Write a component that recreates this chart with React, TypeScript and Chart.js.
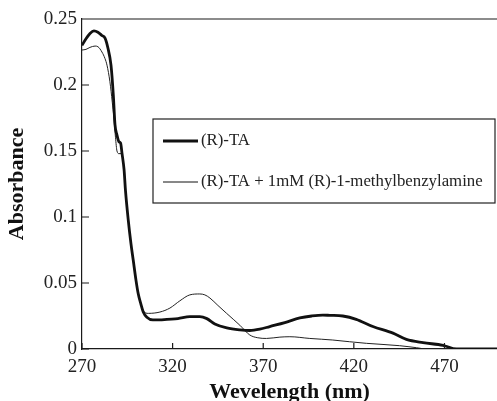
import React, { useEffect, useRef } from "react";
import { Chart, registerables } from "chart.js";

Chart.register(...registerables);

// (R)-TA
const taWavelength = [
  270, 272.2, 274.4, 276.6, 278.8, 281.0, 282.7, 284.3, 286.0, 287.3, 288.2, 289.3,
  290.4, 291.3, 292.1, 293.2, 294.0, 295.5, 297.0, 298.3, 299.8, 301.0, 302.5, 303.8,
  305.8, 309.1, 313.0, 316.9, 322.9, 329.5, 335.0, 338.9, 343.3, 349.9, 357.1, 362.6,
  368.1, 373.6, 381.9, 390.2, 396.8, 402.9, 406.7, 413.9, 421.3, 430.5, 441.6, 449.0,
  458.2, 469.2, 476.6, 499,
];
const taAbsorbance = [
  0.230, 0.235, 0.239, 0.241, 0.240, 0.2375, 0.2355, 0.228, 0.215, 0.192, 0.170, 0.162,
  0.157, 0.156, 0.148, 0.136, 0.120, 0.098, 0.080, 0.067, 0.052, 0.042, 0.034, 0.028,
  0.024, 0.022, 0.022, 0.0225, 0.023, 0.0245, 0.0245, 0.023, 0.019, 0.016, 0.0145, 0.014,
  0.015, 0.017, 0.020, 0.0235, 0.025, 0.0257, 0.0255, 0.025, 0.0225, 0.017, 0.012, 0.0073,
  0.0048, 0.0028, 0.0, 0.0,
];

// (R)-TA + 1mM (R)-1-methylbenzylamine
const mixWavelength = [
  270, 272.2, 274.4, 277.2, 278.8, 281.0, 282.7, 283.8, 285.4, 286.7, 287.6, 288.5,
  289.3, 290.4, 291.9, 293.2, 294.0, 295.5, 297.0, 298.3, 299.8, 301.0, 302.5, 303.8,
  306.6, 313.0, 318.5, 324.0, 329.5, 335.0, 337.8, 340.6, 345.0, 349.8, 357.1, 362.6,
  367.0, 371.8, 379.2, 384.7, 395.7, 408.4, 417.7, 426.9, 445.3, 454.5, 460.2, 499,
];
const mixAbsorbance = [
  0.2265, 0.227, 0.2285, 0.2295, 0.229, 0.225, 0.220, 0.215, 0.2025, 0.187, 0.175, 0.160,
  0.150, 0.148, 0.148, 0.136, 0.120, 0.098, 0.080, 0.067, 0.052, 0.042, 0.034, 0.029,
  0.027, 0.028, 0.031, 0.0365, 0.041, 0.0417, 0.041, 0.0386, 0.033, 0.027, 0.018, 0.0106,
  0.0085, 0.008, 0.009, 0.0093, 0.008, 0.0068, 0.0055, 0.0043, 0.0025, 0.001, 0.0, 0.0,
];

const seriesLabels = ["(R)-TA", "(R)-TA + 1mM (R)-1-methylbenzylamine"];
const xTickValues = [270, 320, 370, 420, 470];
const yTickValues = [0, 0.05, 0.1, 0.15, 0.2, 0.25];
const yTickLabels = ["0", "0.05", "0.1", "0.15", "0.2", "0.25"];
const xTitle = "Wevelength (nm)";
const yTitle = "Absorbance";

const SERIF = "'Liberation Serif', 'Times New Roman', serif";

const framePlugin = {
  id: "frameAndLegend",
  afterDraw(chart: any) {
    const { ctx, chartArea, scales } = chart;
    const xs = scales.x;
    const ys = scales.y;
    ctx.save();
    ctx.strokeStyle = "#1a1a1a";
    ctx.lineWidth = 1.2;
    ctx.beginPath();
    ctx.moveTo(chartArea.left, chartArea.top);
    ctx.lineTo(chartArea.right, chartArea.top);
    for (const v of xTickValues) {
      const px = xs.getPixelForValue(v);
      ctx.moveTo(px, chartArea.bottom);
      ctx.lineTo(px, chartArea.bottom - 6);
    }
    for (const v of yTickValues) {
      const py = ys.getPixelForValue(v);
      ctx.moveTo(chartArea.left, py);
      ctx.lineTo(chartArea.left + 7, py);
    }
    ctx.stroke();

    // legend box
    const bx = chartArea.left + 71;
    const by = chartArea.top + 100;
    const bw = 342;
    const bh = 84;
    ctx.fillStyle = "#ffffff";
    ctx.fillRect(bx, by, bw, bh);
    ctx.lineWidth = 1.2;
    ctx.strokeStyle = "#222";
    ctx.strokeRect(bx, by, bw, bh);

    const rows = [
      { y: by + 22, width: 2.8 },
      { y: by + 63, width: 1 },
    ];
    rows.forEach((r, i) => {
      ctx.beginPath();
      ctx.lineWidth = r.width;
      ctx.strokeStyle = "#111";
      ctx.moveTo(bx + 10, r.y);
      ctx.lineTo(bx + 45, r.y);
      ctx.stroke();
      ctx.fillStyle = "#222";
      ctx.font = `16.8px ${SERIF}`;
      ctx.textBaseline = "middle";
      ctx.textAlign = "left";
      ctx.fillText(seriesLabels[i], bx + 48, r.y);
    });
    ctx.restore();
  },
};

export default function App() {
  const ref = useRef<HTMLCanvasElement>(null);
  useEffect(() => {
    document.body.style.margin = "0";
    const taData = taWavelength.map((x, i) => ({ x, y: taAbsorbance[i] }));
    const mixData = mixWavelength.map((x, i) => ({ x, y: mixAbsorbance[i] }));
    const chart = new Chart(ref.current as HTMLCanvasElement, {
      type: "line",
      data: {
        datasets: [
          {
            label: seriesLabels[0],
            data: taData,
            borderColor: "#111",
            borderWidth: 2.8,
            pointRadius: 0,
            cubicInterpolationMode: "monotone",
            fill: false,
          },
          {
            label: seriesLabels[1],
            data: mixData,
            borderColor: "#222",
            borderWidth: 1,
            pointRadius: 0,
            cubicInterpolationMode: "monotone",
            fill: false,
          },
        ],
      },
      options: {
        responsive: false,
        animation: false,
        devicePixelRatio: 1,
        layout: { padding: { top: 19, right: 0, left: 0, bottom: 0 } },
        plugins: { legend: { display: false }, tooltip: { enabled: false } },
        scales: {
          x: {
            type: "linear",
            min: 270,
            max: 499,
            afterBuildTicks: (s: any) => {
              s.ticks = xTickValues.map((v) => ({ value: v }));
            },
            afterFit: (s: any) => {
              s.height = 52;
            },
            ticks: {
              autoSkip: false,
              maxRotation: 0,
              padding: 7,
              color: "#222",
              font: { family: SERIF, size: 19 },
              callback: (v: any) => String(v),
            },
            grid: { display: false, drawTicks: false, tickLength: 0 },
            border: { display: true, color: "#1a1a1a", width: 1.2 },
            title: {
              display: true,
              text: xTitle,
              color: "#111",
              font: { family: SERIF, size: 22, weight: "bold", lineHeight: 1 },
              padding: { top: 0, bottom: -2.6 },
            },
          },
          y: {
            type: "linear",
            min: 0,
            max: 0.25,
            afterBuildTicks: (s: any) => {
              s.ticks = yTickValues.map((v) => ({ value: v }));
            },
            afterFit: (s: any) => {
              s.width = 82;
            },
            ticks: {
              autoSkip: false,
              padding: 5,
              color: "#222",
              font: { family: SERIF, size: 19 },
              callback: (_v: any, i: number) => yTickLabels[i],
            },
            grid: { display: false, drawTicks: false, tickLength: 0 },
            border: { display: true, color: "#1a1a1a", width: 1.2 },
            title: {
              display: true,
              text: yTitle,
              color: "#111",
              font: { family: SERIF, size: 22, weight: "bold", lineHeight: 1 },
              padding: { top: 6.6, bottom: 0 },
            },
          },
        },
      },
      plugins: [framePlugin],
    });
    return () => chart.destroy();
  }, []);
  return (
    <div style={{ position: "absolute", left: 0, top: 0, width: 497, height: 401, background: "#fff" }}>
      <canvas ref={ref} width={497} height={401} style={{ display: "block" }} />
    </div>
  );
}
